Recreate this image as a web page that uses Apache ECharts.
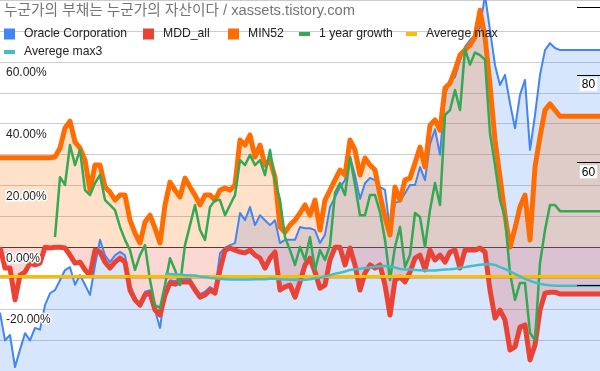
<!DOCTYPE html>
<html><head><meta charset="utf-8">
<script src="https://cdn.jsdelivr.net/npm/echarts@6/dist/echarts.min.js"></script>
<style>html,body{margin:0;padding:0;background:#fff}#c{width:600px;height:371px}</style>
</head><body><div id="c"></div>
<script>
// Oracle Corporation share price (right, log axis)
const oracle = [36.6,33.4,34.0,30.6,32.4,34.2,33.4,34.8,34.6,37.5,
39.0,39.4,40.7,42.1,42.5,40.1,41.4,40.1,38.8,42.8,
46.5,44.2,43.2,44.2,44.7,44.2,40.1,38.5,37.5,39.2,
39.4,36.9,34.8,39.2,40.7,40.6,40.9,40.9,40.9,39.8,
38.9,39.2,39.8,39.4,44.5,45.3,45.7,46.0,50.8,49.6,
51.8,48.8,50.4,49.6,48.8,49.6,46.0,46.5,46.5,46.5,
48.5,48.3,48.3,48.0,46.0,47.3,51.8,53.5,55.3,56.6,
61.1,57.5,53.2,56.0,57.0,56.6,55.3,54.8,48.0,52.5,
52.8,54.2,55.7,55.7,59.1,56.6,63.7,66.9,61.5,74.9,
78.7,79.4,84.0,87.7,89.7,91.2,93.6,104.0,92.7,82.6,
77.4,80.0,72.9,67.1,74.9,78.7,62.5,70.1,80.0,86.8,
88.8,87.4,86.8,86.8,86.8,86.8,86.8,86.8,86.8,86.8,86.8];
// MDD_all (%)
const mdd = [0,-6.7,-6.7,-17.0,-9.0,-8.0,-5.1,-5.7,-5.1,0,
-0.2,0,0,-0.2,-2.5,-5.1,-4.8,-7.3,-9.0,-0.9,
-1.5,-4.8,-6.7,-4.8,-3.5,-4.8,-13.8,-17.0,-18.7,-15.4,
-14.8,-20.3,-21.9,-15.4,-11.5,-11.9,-11.2,-11.2,-11.2,-13.8,
-16.1,-15.4,-13.8,-14.8,-7.3,-0.9,-0.2,-0.9,-1.5,-1.8,
-0.9,-2.5,-3.5,-6.7,-3.5,-1.5,-13.8,-12.8,-12.2,-16.1,
-11.2,-5.7,-3.5,-8.0,-13.2,-12.2,-4.1,0,0,-5.7,
-0.2,-5.7,-13.8,-8.3,-5.7,-6.7,-5.7,-12.2,-21.9,-10.6,
-9.6,-11.2,-8.0,-3.5,-2.5,-7.3,-0.9,-4.1,-2.5,-4.8,
-1.5,-0.9,-6.7,-0.9,-0.9,-0.9,-0.2,-1.5,-13.8,-22.9,
-20.3,-23.5,-33.2,-32.2,-25.8,-25.1,-36.4,-31.6,-20.3,-14.8,
-14.5,-14.5,-15.1,-15.1,-15.1,-15.1,-15.1,-15.1,-15.1,-15.1,-15.1];
// MIN52 (%)
const min52 = [29.0,29.0,29.0,29.0,29.0,29.0,29.0,29.0,29.0,29.0,
29.0,29.2,32.1,38.6,40.8,34.1,32.1,28.2,18.5,26.6,
26.6,19.5,17.9,15.3,16.9,16.9,8.8,4.6,1.4,8.2,
10.4,6.2,1.4,13.7,21.1,18.5,16.3,22.4,19.5,16.9,
13.7,16.9,16.9,15.3,18.5,19.2,18.5,20.2,34.7,33.1,
36.3,29.2,33.1,26.6,28.2,22.7,6.6,4.9,7.2,8.8,
11.1,13.7,10.4,15.3,5.6,15.3,18.5,21.8,25.0,23.4,
34.7,31.5,23.4,28.9,26.6,25.0,16.9,9.8,4.0,19.5,
15.3,21.8,22.4,27.3,32.4,26.0,39.5,41.2,37.9,51.5,
53.1,57.3,62.2,63.8,65.4,68.0,76.7,68.0,52.5,34.7,
22.7,10.4,0.1,6.2,13.1,16.9,2.4,26.0,35.7,44.4,
46.4,44.4,42.4,42.4,42.4,42.4,42.4,42.4,42.4,42.4,42.4];
// 1 year growth (%)
const growth = [null,null,null,null,null,null,null,null,null,null,
null,3.3,22.7,20.2,33.1,26.6,31.5,18.5,16.9,20.8,
23.4,15.3,13.7,12.0,6.6,2.4,-0.9,-7.3,-2.5,0.7,
-10.6,-18.7,-19.6,-12.2,-3.5,-7.3,-12.2,0.7,7.2,13.7,
5.6,2.4,13.0,15.3,15.3,10.4,13.7,16.9,28.2,26.6,
29.9,26.6,28.2,23.4,31.5,21.8,15.3,3.3,-0.9,-5.7,
0.1,-4.1,3.3,-7.3,-0.9,-4.1,0.7,17.6,20.8,16.9,
29.2,20.2,10.4,10.4,16.9,16.9,11.4,2.4,-10.6,0.1,
6.6,-6.4,-2.5,11.1,9.8,0.1,12.1,20.8,13.7,42.8,
44.4,50.9,44.4,64.1,59.1,63.0,62.2,60.6,36.9,26.6,
15.3,9.8,-8.3,-17.0,-11.5,-11.5,-27.7,-30.0,-5.1,5.6,
13.7,13.7,11.7,11.7,11.7,11.7,11.7,11.7,11.7,11.7,11.7];
// Averege max (%), first and last point
const avgMaxIdx = [0, 120];
const avgMax = [-9.4, -9.4];
// Averege max3 (%)
const avgMax3 = [null,null,null,null,null,null,null,null,null,null,
null,null,null,null,null,null,null,null,null,null,
null,null,null,null,null,null,null,null,null,null,
null,null,null,-8.6,-8.6,-8.8,-8.8,-9.0,-9.0,-9.1,
-9.4,-9.6,-9.9,-10.0,-10.2,-10.3,-10.4,-10.4,-10.4,-10.4,
-10.4,-10.3,-10.3,-10.3,-10.2,-10.2,-10.3,-10.4,-10.5,-10.6,
-10.6,-10.5,-10.3,-10.0,-9.8,-9.4,-9.0,-8.5,-8.2,-7.8,
-7.3,-7.1,-6.9,-6.7,-6.5,-6.3,-6.1,-6.0,-6.1,-6.5,
-7.0,-7.2,-7.2,-7.3,-7.4,-7.5,-7.5,-7.5,-7.3,-7.2,
-7.1,-6.9,-6.6,-6.4,-6.1,-5.9,-5.6,-5.5,-5.4,-5.7,
-6.4,-7.0,-7.8,-8.6,-9.4,-10.2,-10.8,-11.4,-11.8,-12.1,
-12.3,-12.4,-12.4,-12.4,-12.4,-12.4,-12.4,-12.4,-12.4,-12.4,-12.4];
// axis ticks
const leftTicks = [-40,-30,-20,-10,0,10,20,30,40,50,60,70,80];
const leftLabelTicks = [-20,0,20,40,60];
const rightTicks = [100, 80, 60, 40];
const rightTickLabels = ['', '80', '60', ''];

const FONT = "'Liberation Sans', Arial, 'Noto Sans CJK KR', sans-serif";
const lastIdx = oracle.length - 1;
const pairs = arr => arr.map((v, i) => [i, v]);

const chart = echarts.init(document.getElementById('c'), null, {renderer: 'canvas'});
const legendBase = {
  orient: 'horizontal', padding: 0, selectedMode: false, icon: 'rect',
  itemStyle: {borderWidth: 0},
  textStyle: {fontSize: 12.2, color: '#222', fontFamily: FONT, lineHeight: 14, padding: [0,0,0,4]}
};
const lg = (name, left, top, h) => Object.assign({}, legendBase, {data: [name], left, top, itemWidth: 11, itemHeight: h});

chart.setOption({
  animation: false,
  backgroundColor: '#fff',
  title: {
    text: '누군가의 부채는 누군가의 자산이다 / xassets.tistory.com',
    left: 4, top: 4, padding: 0,
    textStyle: {fontSize: 14.7, fontWeight: 'normal', color: '#757575', fontFamily: FONT}
  },
  legend: [
    lg('Oracle Corporation', 4, 27, 11),
    lg('MDD_all', 143, 27, 11),
    lg('MIN52', 228, 27, 11),
    lg('1 year growth', 299, 27, 4),
    lg('Averege max', 406, 27, 4),
    lg('Averege max3', 4, 45, 4)
  ],
  grid: {left: 0, right: 0, top: 0, bottom: 0, containLabel: false, outerBoundsMode: 'none'},
  xAxis: {type: 'value', min: 0, max: lastIdx, show: false},
  yAxis: [
    {type: 'value', position: 'left', min: leftTicks[0], max: leftTicks[leftTicks.length-1], interval: 10, z: 0,
     axisLine: {show: false}, axisTick: {show: false}, axisLabel: {show: false},
     splitLine: {show: true, showMinLine: true, showMaxLine: true,
       lineStyle: {width: 1, color: leftTicks.map(v => v === 0 ? '#333333' : '#cccccc')}}},
    {type: 'value', position: 'left', min: leftTicks[0], max: leftTicks[leftTicks.length-1], interval: 10, z: 10,
     axisLine: {show: false}, axisTick: {show: false}, splitLine: {show: false},
     axisLabel: {show: true, inside: true, margin: 6, verticalAlign: 'top', padding: [5,0,0,0],
       fontSize: 12, color: '#222', fontFamily: FONT, textBorderColor: '#fff', textBorderWidth: 3,
       showMinLabel: true, showMaxLabel: true,
       formatter: v => leftLabelTicks.indexOf(v) >= 0 ? v.toFixed(2) + '%' : ''}},
    {type: 'log', position: 'right', min: 30.2, max: 102.35, logBase: 10, show: false,
     axisLabel: {show: false}, splitLine: {show: false}}
  ],
  series: [
    {name: 'Oracle Corporation', type: 'line', yAxisIndex: 2, data: pairs(oracle), symbol: 'none',
     color: '#4285F4', lineStyle: {color: '#4285F4', width: 2, join: 'round'},
     areaStyle: {color: 'rgba(66,133,244,0.3)', origin: 'start'},
     markLine: {silent: true, symbol: ['none','none'], animation: false, z: 5,
       lineStyle: {color: '#000', width: 1, type: 'solid'},
       label: {formatter: '{b}', position: 'insideMiddleBottom', distance: 3, color: '#000', fontSize: 12,
         fontFamily: FONT, backgroundColor: '#fff', padding: [1,2,0,2]},
       emphasis: {disabled: true},
       data: rightTicks.map((v, k) => {
         const lab = {show: rightTickLabels[k] !== ''};
         return [{name: rightTickLabels[k], coord: [lastIdx - 4.6, v], label: lab},
                 {name: rightTickLabels[k], coord: [lastIdx, v], label: lab}];
       })}},
    {name: 'MDD_all', type: 'line', yAxisIndex: 0, data: pairs(mdd), symbol: 'none',
     color: '#EA4335', lineStyle: {color: '#EA4335', width: 5, join: 'round'},
     areaStyle: {color: 'rgba(234,67,53,0.3)'}},
    {name: 'MIN52', type: 'line', yAxisIndex: 0, data: pairs(min52), symbol: 'none',
     color: '#FF6D01', lineStyle: {color: '#FF6D01', width: 5, join: 'round'},
     areaStyle: {color: 'rgba(255,109,1,0.3)'}},
    {name: '1 year growth', type: 'line', yAxisIndex: 0, data: pairs(growth), symbol: 'none',
     color: '#34A853', lineStyle: {color: '#34A853', width: 2.5, join: 'round'}},
    {name: 'Averege max', type: 'line', yAxisIndex: 0, data: avgMaxIdx.map((x, k) => [x, avgMax[k]]), symbol: 'none',
     color: '#FBBC04', lineStyle: {color: '#FBBC04', width: 3}},
    {name: 'Averege max3', type: 'line', yAxisIndex: 0, data: pairs(avgMax3), symbol: 'none',
     color: '#46BDC6', lineStyle: {color: '#46BDC6', width: 2.5, join: 'round'}}
  ]
});
</script></body></html>
